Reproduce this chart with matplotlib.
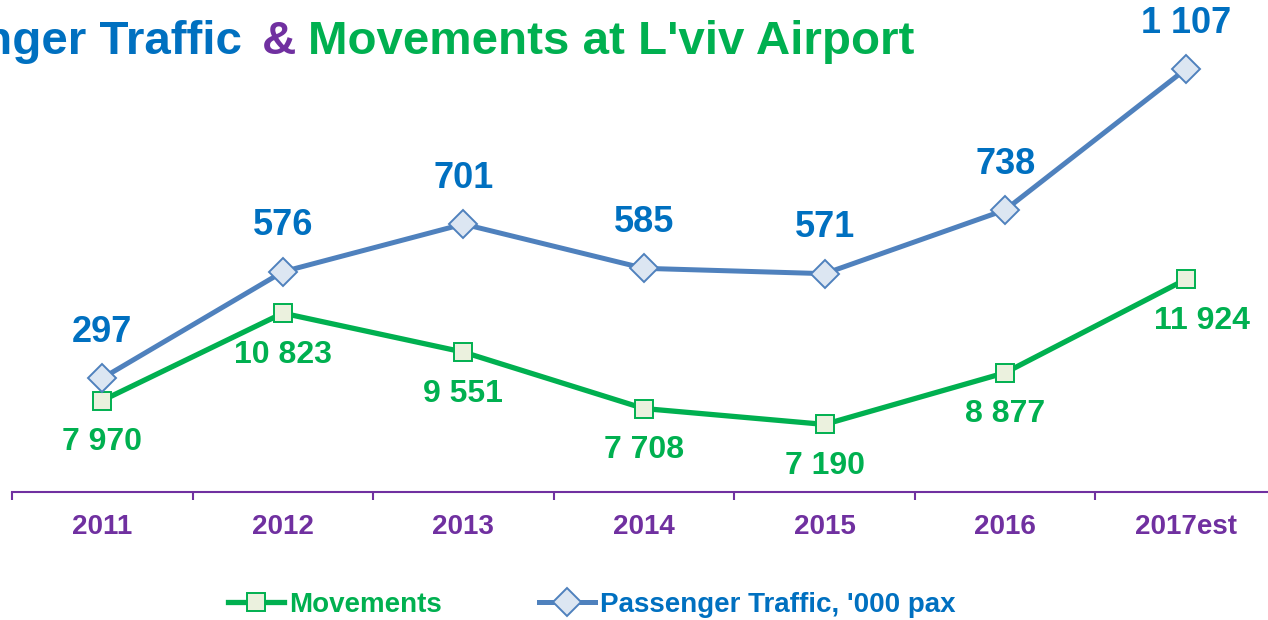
import matplotlib
matplotlib.use('Agg')
import matplotlib.pyplot as plt
from matplotlib.ticker import FixedLocator

# data
years = ['2011', '2012', '2013', '2014', '2015', '2016', '2017est']
movements = [7970, 10823, 9551, 7708, 7190, 8877, 11924]
passengers = [297, 576, 701, 585, 571, 738, 1107]  # '000 pax

blue_txt = '#0070C0'
blue_line = '#4F81BD'
green = '#00B050'
purple = '#7030A0'

plt.rcParams['font.family'] = ['Liberation Sans', 'DejaVu Sans']
plt.rcParams['font.weight'] = 'bold'

W, H = 1268, 620
fig = plt.figure(figsize=(W / 100, H / 100), dpi=100)

# axes: bottom on the purple line, runs a bit past the right edge like the source
left_px, right_px, bottom_px, top_px = 12, 1276, 491.5, 0
ax = fig.add_axes([left_px / W, 1 - bottom_px / H,
                   (right_px - left_px) / W, (bottom_px - top_px) / H])
ax2 = ax.twinx()

x = list(range(len(years)))

ax.plot(x, movements, color=green, lw=3.8, marker='s', ms=13,
        mfc='#EBF1DE', mec=green, mew=1.4, clip_on=False, zorder=3,
        label='Movements')
ax2.plot(x, passengers, color=blue_line, lw=3.6, marker='D', ms=14.5,
         mfc='#DCE6F2', mec=blue_line, mew=1.4, clip_on=False, zorder=3,
         label="Passenger Traffic, '000 pax")

ax.set_ylim(5000, 5000 + bottom_px / 0.03063)
ax2.set_ylim(0, bottom_px / 0.3815)
ax.set_xlim(-0.5, len(years) - 0.5)

# data labels
for i, v in enumerate(movements):
    dx = 12 if i == len(movements) - 1 else 0
    ax.annotate(f'{v:,}'.replace(',', ' '), (i, v), xytext=(dx, -30),
                textcoords='offset points', ha='center', va='center',
                fontsize=23, color=green, fontweight='bold')
for i, v in enumerate(passengers):
    ax2.annotate(f'{v:,}'.replace(',', ' '), (i, v), xytext=(0, 33),
                 textcoords='offset points', ha='center', va='center',
                 fontsize=26, color=blue_txt, fontweight='bold')

# axis styling
for a in (ax, ax2):
    for s in ('left', 'right', 'top'):
        a.spines[s].set_visible(False)
    a.set_yticks([])
ax2.spines['bottom'].set_visible(False)
ax.spines['bottom'].set_color(purple)
ax.spines['bottom'].set_linewidth(1.5)

ax.set_xticks(x)
ax.set_xticklabels(years, fontsize=20, color=purple, fontweight='bold')
ax.xaxis.set_minor_locator(FixedLocator([i - 0.5 for i in range(len(years) + 1)]))
ax.tick_params(axis='x', which='major', length=0, pad=16.5)
ax.tick_params(axis='x', which='minor', length=6, width=1.5, color=purple,
               direction='out')

# title in three colours, left part runs off the figure
ty = 1 - 54 / H
fig.text(242 / W, ty, 'Passenger Traffic', ha='right', va='baseline',
         fontsize=34.2, color=blue_txt, fontweight='bold')
fig.text(262 / W, ty, '&', ha='left', va='baseline',
         fontsize=34.2, color=purple, fontweight='bold')
fig.text(308 / W, ty, "Movements at L'viv Airport", ha='left', va='baseline',
         fontsize=34.2, color=green, fontweight='bold')

# legend along the bottom
h1, l1 = ax.get_legend_handles_labels()
h2, l2 = ax2.get_legend_handles_labels()
leg = fig.legend(h1 + h2, l1 + l2, loc='center', ncol=2,
                 bbox_to_anchor=(592 / W, 1 - 605 / H), frameon=False,
                 prop={'size': 20, 'weight': 'bold'}, handlelength=2.0,
                 handletextpad=0.2, columnspacing=3.5, borderaxespad=0)
for t, c in zip(leg.get_texts(), [green, blue_txt]):
    t.set_color(c)

fig.savefig('out.png', dpi=100)
